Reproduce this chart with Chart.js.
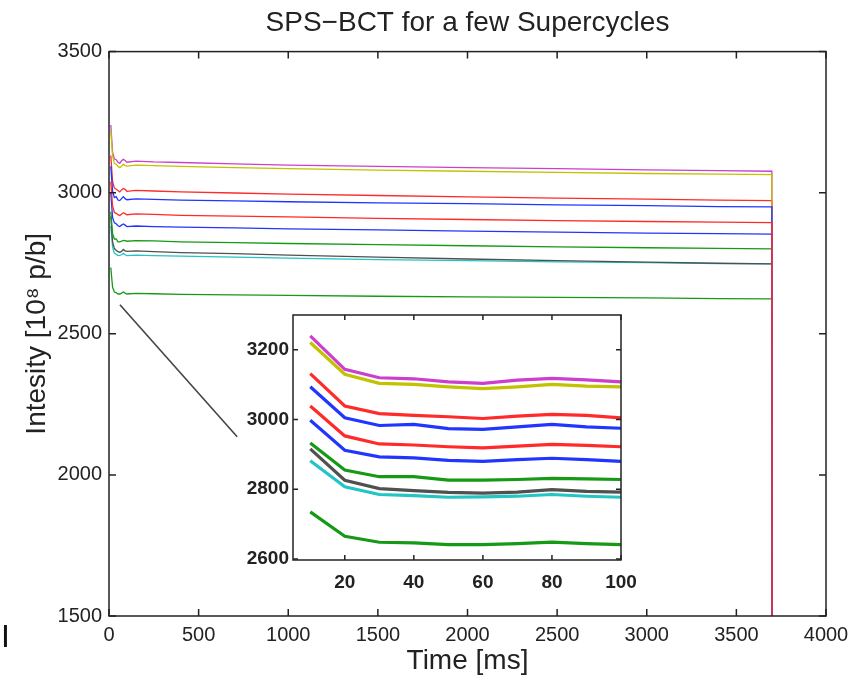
<!DOCTYPE html>
<html>
<head>
<meta charset="utf-8">
<script src="https://cdn.jsdelivr.net/npm/chart.js@4.4.1/dist/chart.umd.min.js"></script>
<style>
  body { margin: 0; background: #fff; }
  #wrap { position: relative; width: 850px; height: 678px; }
  #mainChart { position: absolute; left: 0; top: 0; }
  #insetChart { position: absolute; left: 230px; top: 305px; }
  #stray { position: absolute; left: 1px; top: 618px; font: 32px "Liberation Sans", Arial, sans-serif; color: #111; }
</style>
</head>
<body>
<div id="wrap">
  <canvas id="mainChart" width="850" height="678"></canvas>
  <canvas id="insetChart" width="420" height="300"></canvas>
  <div id="stray">I</div>
</div>
<script>
// time samples (ms)
var earlyTimes = [10, 20, 30, 40, 50, 60, 70, 80, 90, 100];
var tailTimes = [150, 250, 400, 700, 1000, 1500, 2000, 2500, 3000, 3400, 3698, 3700];

// one row per supercycle: magenta, yellow, red, blue, red, blue, green, grey, cyan, green
var seriesColors = ['#cc3fcc', '#c2c200', '#ff2a2a', '#2036ff', '#ff2a2a', '#2036ff', '#169a16', '#505050', '#22c4c4', '#169a16'];

var earlyValues = [
  [3240, 3144, 3120, 3117, 3108, 3104, 3113, 3118, 3114, 3108],
  [3221, 3130, 3104, 3101, 3094, 3089, 3094, 3101, 3096, 3094],
  [3132, 3039, 3017, 3012, 3008, 3003, 3010, 3015, 3012, 3005],
  [3094, 3005, 2983, 2986, 2974, 2972, 2979, 2986, 2979, 2975],
  [3039, 2953, 2930, 2927, 2922, 2919, 2924, 2929, 2926, 2922],
  [2998, 2912, 2893, 2890, 2883, 2880, 2885, 2889, 2885, 2880],
  [2933, 2855, 2836, 2836, 2826, 2826, 2828, 2831, 2830, 2828],
  [2916, 2826, 2802, 2796, 2791, 2789, 2792, 2799, 2794, 2792],
  [2882, 2807, 2785, 2782, 2777, 2778, 2780, 2785, 2780, 2777],
  [2735, 2665, 2648, 2646, 2641, 2641, 2644, 2648, 2644, 2641]
];

var tailValues = [
  [3112, 3109, 3107, 3102, 3098, 3093, 3089, 3085, 3081, 3078, 3076, 0],
  [3098, 3096, 3093, 3089, 3085, 3080, 3076, 3072, 3068, 3066, 3064, 0],
  [3008, 3006, 3003, 2999, 2995, 2990, 2985, 2981, 2977, 2974, 2972, 0],
  [2978, 2976, 2974, 2971, 2968, 2964, 2961, 2957, 2954, 2951, 2950, 0],
  [2925, 2923, 2920, 2917, 2914, 2909, 2905, 2901, 2898, 2896, 2894, 0],
  [2882, 2880, 2878, 2875, 2872, 2868, 2864, 2860, 2857, 2855, 2853, 0],
  [2830, 2829, 2826, 2823, 2820, 2816, 2812, 2808, 2805, 2803, 2801, 0],
  [2794, 2791, 2788, 2784, 2779, 2772, 2765, 2759, 2754, 2750, 2748, 0],
  [2779, 2777, 2775, 2772, 2768, 2763, 2759, 2755, 2752, 2749, 2748, 0],
  [2643, 2642, 2640, 2638, 2636, 2633, 2631, 2629, 2627, 2625, 2624, 0]
];

// which line ends up on top at the dump (lower = on top)
var drawOrder = [6, 2, 5, 1, 0, 7, 8, 9, 10, 11];

var mainXTicks = [0, 500, 1000, 1500, 2000, 2500, 3000, 3500, 4000];
var mainYTicks = [1500, 2000, 2500, 3000, 3500];
var insetXTicks = [20, 40, 60, 80, 100];
var insetYTicks = [2600, 2800, 3000, 3200];

// pointer from the main plot to the zoomed inset (data coords)
var pointerLine = [[61, 2603], [715, 2135]];

var fontFam = '"Liberation Sans", Arial, Helvetica, sans-serif';

function toXY(times, vals) {
  return times.map(function(t, i) { return {x: t, y: vals[i]}; });
}

function plain(v) { return String(v); }

// MATLAB-like box with inward ticks
function boxPlugin(tickLen) {
  return {
    id: 'box',
    beforeDraw: function(chart) {
      var a = chart.chartArea, ctx = chart.ctx;
      ctx.save();
      ctx.fillStyle = '#fff';
      ctx.fillRect(a.left, a.top, a.right - a.left, a.bottom - a.top);
      ctx.restore();
    },
    afterDraw: function(chart) {
      var a = chart.chartArea, ctx = chart.ctx;
      var sx = chart.scales.x, sy = chart.scales.y;
      ctx.save();
      ctx.strokeStyle = '#222';
      ctx.lineWidth = 1.5;
      ctx.strokeRect(a.left, a.top, a.right - a.left, a.bottom - a.top);
      ctx.beginPath();
      sx.ticks.forEach(function(t) {
        var px = sx.getPixelForValue(t.value);
        ctx.moveTo(px, a.bottom); ctx.lineTo(px, a.bottom - tickLen);
        ctx.moveTo(px, a.top); ctx.lineTo(px, a.top + tickLen);
      });
      sy.ticks.forEach(function(t) {
        var py = sy.getPixelForValue(t.value);
        ctx.moveTo(a.left, py); ctx.lineTo(a.left + tickLen, py);
        ctx.moveTo(a.right, py); ctx.lineTo(a.right - tickLen, py);
      });
      ctx.stroke();
      ctx.restore();
    }
  };
}

var pointerPlugin = {
  id: 'pointer',
  afterDraw: function(chart) {
    var sx = chart.scales.x, sy = chart.scales.y, ctx = chart.ctx;
    ctx.save();
    ctx.strokeStyle = '#444';
    ctx.lineWidth = 1.6;
    ctx.beginPath();
    ctx.moveTo(sx.getPixelForValue(pointerLine[0][0]), sy.getPixelForValue(pointerLine[0][1]));
    ctx.lineTo(sx.getPixelForValue(pointerLine[1][0]), sy.getPixelForValue(pointerLine[1][1]));
    ctx.stroke();
    ctx.restore();
  }
};

var mainSets = earlyValues.map(function(vals, i) {
  return {
    data: toXY(earlyTimes.concat(tailTimes), vals.concat(tailValues[i])),
    borderColor: seriesColors[i],
    borderWidth: 1.3,
    pointRadius: 0,
    tension: 0,
    order: drawOrder[i]
  };
});

var insetSets = earlyValues.map(function(vals, i) {
  return {
    data: toXY(earlyTimes, vals),
    borderColor: seriesColors[i],
    borderWidth: 3.2,
    pointRadius: 0,
    tension: 0
  };
});

new Chart(document.getElementById('mainChart'), {
  type: 'line',
  data: { datasets: mainSets },
  plugins: [boxPlugin(7), pointerPlugin],
  options: {
    responsive: false,
    animation: false,
    layout: { padding: { left: 0, right: 24, top: 0, bottom: 0 } },
    plugins: {
      legend: { display: false },
      tooltip: { enabled: false },
      title: {
        display: true,
        fullSize: false,
        text: 'SPS\u2212BCT for a few Supercycles',
        color: '#222',
        font: { family: fontFam, size: 28, weight: 'normal' },
        padding: { top: 6, bottom: 12 }
      }
    },
    scales: {
      x: {
        type: 'linear',
        min: 0, max: 4000,
        afterFit: function(s) { s.height = 62; s.paddingLeft = 0; s.paddingRight = 0; },
        afterBuildTicks: function(s) { s.ticks = mainXTicks.map(function(v) { return {value: v}; }); },
        grid: { display: false, drawTicks: false },
        border: { display: false },
        ticks: { color: '#222', padding: 7, maxRotation: 0, callback: plain, font: { family: fontFam, size: 20 } },
        title: {
          display: true, text: 'Time [ms]', color: '#222',
          font: { family: fontFam, size: 28 },
          padding: { top: 2, bottom: 0 }
        }
      },
      y: {
        type: 'linear',
        min: 1500, max: 3500,
        afterFit: function(s) { s.width = 109; s.paddingTop = 0; s.paddingBottom = 0; },
        afterBuildTicks: function(s) { s.ticks = mainYTicks.map(function(v) { return {value: v}; }); },
        grid: { display: false, drawTicks: false },
        border: { display: false },
        ticks: { color: '#222', padding: 7, callback: plain, font: { family: fontFam, size: 20 } },
        title: {
          display: true, text: 'Intesity [10\u2078 p/b]', color: '#222',
          font: { family: fontFam, size: 28 },
          padding: { top: 20, bottom: 0 }
        }
      }
    }
  }
});

new Chart(document.getElementById('insetChart'), {
  type: 'line',
  data: { datasets: insetSets },
  plugins: [boxPlugin(5)],
  options: {
    responsive: false,
    animation: false,
    layout: { padding: { left: 0, right: 29, top: 10, bottom: 0 } },
    plugins: { legend: { display: false }, tooltip: { enabled: false } },
    scales: {
      x: {
        type: 'linear',
        min: 5, max: 100,
        afterFit: function(s) { s.height = 45; s.paddingLeft = 0; s.paddingRight = 0; },
        afterBuildTicks: function(s) { s.ticks = insetXTicks.map(function(v) { return {value: v}; }); },
        grid: { display: false, drawTicks: false },
        border: { display: false },
        ticks: { color: '#222', padding: 11, maxRotation: 0, callback: plain, font: { family: fontFam, size: 19, weight: 'bold' } }
      },
      y: {
        type: 'linear',
        min: 2597, max: 3300,
        afterFit: function(s) { s.width = 63; s.paddingTop = 0; s.paddingBottom = 0; },
        afterBuildTicks: function(s) { s.ticks = insetYTicks.map(function(v) { return {value: v}; }); },
        grid: { display: false, drawTicks: false },
        border: { display: false },
        ticks: { color: '#222', padding: 4, callback: plain, font: { family: fontFam, size: 19, weight: 'bold' } }
      }
    }
  }
});
</script>
</body>
</html>
